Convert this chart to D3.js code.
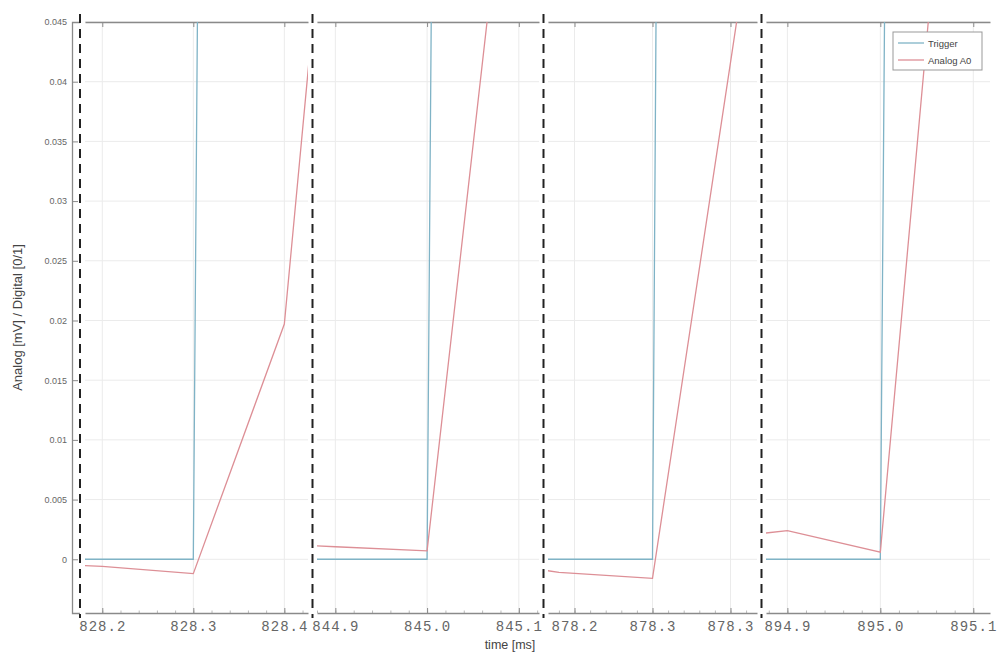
<!DOCTYPE html>
<html>
<head>
<meta charset="utf-8">
<script src="https://cdn.jsdelivr.net/npm/d3@7"></script>
<style>
  body { margin: 0; background: #fff; }
  text { font-family: "Liberation Sans", Arial, sans-serif; }
  .xtick text { font-family: "Liberation Mono", "DejaVu Sans Mono", monospace; letter-spacing: 1px; }
</style>
</head>
<body>
<script>

// Broken time axis: four windows around each trigger (ms)
panelDomains = [[828.181, 828.426], [844.880, 845.122], [878.183, 878.317], [894.877, 895.118]];
panelTicks = [[828.2, 828.3, 828.4], [844.9, 845.0, 845.1], [878.2, 878.25, 878.3], [894.9, 895.0, 895.1]];
yTicks = [0, 0.005, 0.01, 0.015, 0.02, 0.025, 0.03, 0.035, 0.04, 0.045];

// Trigger (digital 0/1) per window
triggerTime = [[828.1, 828.2, 828.3, 828.4, 828.5],
               [844.8, 844.9, 845.0, 845.1, 845.2],
               [878.15, 878.2, 878.25, 878.3, 878.35],
               [894.8, 894.9, 895.0, 895.1, 895.2]];
triggerVal  = [[0, 0, 0, 1, 1],
               [0, 0, 0, 1, 1],
               [0, 0, 0, 1, 1],
               [0, 0, 0, 1, 1]];

// Analog A0 per window
analogTime = [[828.1, 828.2, 828.3, 828.4, 828.5],
              [844.8, 844.9, 845.0, 845.1],
              [878.18, 878.19, 878.25, 878.3, 878.35],
              [894.877, 894.9, 895.0, 895.1]];
analogVal  = [[-0.0002, -0.0006, -0.0012, 0.0197, 0.101],
              [0.0014, 0.00105, 0.0007, 0.0685],
              [-0.0009, -0.0011, -0.0016, 0.0416, 0.085],
              [0.0022, 0.0024, 0.0006, 0.0867]];

seriesNames = ["Trigger", "Analog A0"];
seriesColors = ["#7fb3c6", "#dd8f96"];

w = 1000;
h = 654;
yTop = 22;
yBot = 613;
axisX = 72;
panelRanges = [[85, 308], [317, 539], [548, 757], [766, 990]];

svg = d3.select("body")
  .append("svg")
    .attr("width", w)
    .attr("height", h);

y = d3.scaleLinear()
  .domain([-0.0045, 0.045])
  .range([yBot, yTop]);

// clip paths, one per window
defs = svg.append("defs");
panelRanges.forEach((r, i) => {
  defs.append("clipPath").attr("id", "clip" + i)
    .append("rect")
      .attr("x", r[0]).attr("y", yTop)
      .attr("width", r[1] - r[0]).attr("height", yBot - yTop);
});

panelDomains.forEach((dom, i) => {
  var r = panelRanges[i];
  var x = d3.scaleLinear().domain(dom).range(r);
  var g = svg.append("g");

  // grid
  g.selectAll(".hgrid").data(yTicks).enter().append("line")
    .attr("x1", r[0]).attr("x2", r[1])
    .attr("y1", d => y(d)).attr("y2", d => y(d))
    .attr("stroke", "#ebebeb").attr("stroke-width", 1);
  g.selectAll(".vgrid").data(panelTicks[i]).enter().append("line")
    .attr("x1", d => x(d)).attr("x2", d => x(d))
    .attr("y1", yTop).attr("y2", yBot)
    .attr("stroke", "#ebebeb").attr("stroke-width", 1);

  // bottom axis, minor then major ticks
  var step = panelTicks[i][1] - panelTicks[i][0];
  var minor = d3.range(panelTicks[i][0] - step, panelTicks[i][2] + step, step / 5)
    .filter(t => t >= dom[0] && t <= dom[1]);
  g.append("g")
    .attr("transform", "translate(0," + yBot + ")")
    .call(d3.axisBottom(x).tickValues(minor).tickSizeInner(-2.5).tickSizeOuter(0).tickFormat(""))
    .call(a => a.select(".domain").remove())
    .call(a => a.selectAll("line").attr("stroke", "#bbb"));
  g.append("g")
    .attr("class", "xtick")
    .attr("transform", "translate(0," + yBot + ")")
    .call(d3.axisBottom(x).tickValues(panelTicks[i]).tickSizeInner(-5).tickSizeOuter(0)
      .tickPadding(8).tickFormat(d3.format(".1f")))
    .call(a => a.select(".domain").attr("stroke", "#8a8a8a").attr("stroke-width", 1.3))
    .call(a => a.selectAll("line").attr("stroke", "#8a8a8a"))
    .call(a => a.selectAll("text").attr("font-size", 14).attr("fill", "#666"));

  // top border
  g.append("g")
    .attr("transform", "translate(0," + yTop + ")")
    .call(d3.axisTop(x).tickValues(panelTicks[i]).tickSizeInner(-5).tickSizeOuter(0).tickFormat(""))
    .call(a => a.select(".domain").attr("stroke", "#8a8a8a").attr("stroke-width", 1.3))
    .call(a => a.selectAll("line").attr("stroke", "#8a8a8a"));

  // data lines
  var line = d3.line().x(d => x(d[0])).y(d => y(d[1]));
  var lines = g.append("g").attr("clip-path", "url(#clip" + i + ")");
  lines.append("path")
    .datum(triggerTime[i].map((t, j) => [t, triggerVal[i][j]]))
    .attr("d", line).attr("fill", "none")
    .attr("stroke", seriesColors[0]).attr("stroke-width", 1.3);
  lines.append("path")
    .datum(analogTime[i].map((t, j) => [t, analogVal[i][j]]))
    .attr("d", line).attr("fill", "none")
    .attr("stroke", seriesColors[1]).attr("stroke-width", 1.3);
});

// y axis
svg.append("g")
  .attr("transform", "translate(" + axisX + ",0)")
  .call(d3.axisLeft(y).tickValues(yTicks).tickSizeInner(-6).tickSizeOuter(-8)
    .tickPadding(5).tickFormat(d => String(d)))
  .call(a => a.select(".domain").attr("stroke", "#8a8a8a").attr("stroke-width", 1.3))
  .call(a => a.selectAll("line").attr("stroke", "#8a8a8a"))
  .call(a => a.selectAll("text").attr("font-size", 9).attr("fill", "#666"));

// break markers (dashed black lines between windows)
breaks = panelRanges.map((r, i) => i == 0 ? r[0] - 5 : (panelRanges[i - 1][1] + r[0]) / 2);
svg.selectAll(".brk").data(breaks).enter().append("line")
  .attr("x1", d => d).attr("x2", d => d)
  .attr("y1", 14).attr("y2", 618)
  .attr("stroke", "#222").attr("stroke-width", 2)
  .attr("stroke-dasharray", "9,6");

// axis titles
svg.append("text")
  .attr("x", 510).attr("y", 649)
  .attr("text-anchor", "middle")
  .attr("font-size", 12.5).attr("fill", "#444")
  .text("time [ms]");
svg.append("text")
  .attr("transform", "translate(22," + (yTop + yBot) / 2 + ") rotate(-90)")
  .attr("text-anchor", "middle")
  .attr("font-size", 13).attr("fill", "#444")
  .text("Analog [mV] / Digital [0/1]");

// legend
legend = svg.append("g").attr("transform", "translate(893,32)");
legend.append("rect")
  .attr("width", 89).attr("height", 38)
  .attr("fill", "#fff").attr("stroke", "#999").attr("stroke-width", 1);
seriesNames.forEach((name, i) => {
  legend.append("line")
    .attr("x1", 5).attr("x2", 31)
    .attr("y1", 11 + i * 17).attr("y2", 11 + i * 17)
    .attr("stroke", seriesColors[i]).attr("stroke-width", 1.3);
  legend.append("text")
    .attr("x", 35).attr("y", 14.5 + i * 17)
    .attr("font-size", 9.5).attr("fill", "#444")
    .text(name);
});

</script>
</body>
</html>
